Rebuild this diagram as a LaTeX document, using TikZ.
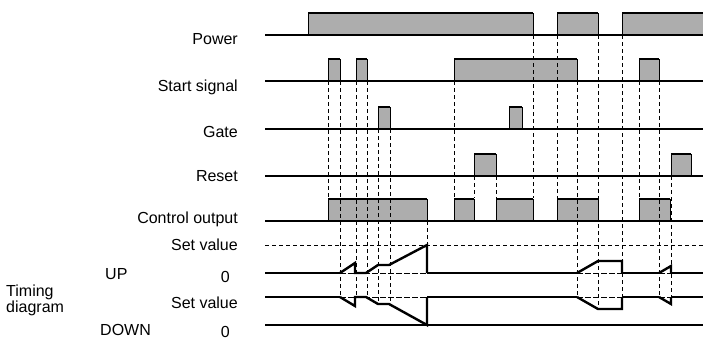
\documentclass[tikz,border=0pt]{standalone}
\usepackage{fontspec}
\setmainfont{Liberation Sans}
\usetikzlibrary{positioning}
\tikzset{lbl/.style={anchor=base east,inner sep=0pt,font=\fontsize{16}{13.5}\selectfont},
sig/.style={line width=1.2pt},hi/.style={fill=black!32},edge/.style={line width=0.9pt},
topedge/.style={line width=2pt},vdash/.style={dash pattern=on 4pt off 3pt,line width=0.9pt},
zline/.style={dash pattern=on 6pt off 2pt,line width=0.7pt},
cnt/.style={line width=2.4pt,line join=miter}}
% one high level of a signal: from, to, baseline
\newcommand{\pulse}[3]{%
  \fill[hi] (#1,#3) rectangle (#2,#3-22);
  \draw[edge] (#1,#3) -- (#1,#3-22) (#2,#3-22) -- (#2,#3);
  \draw[topedge] (#1,#3-22) -- (#2,#3-22);}

\begin{document}
\begin{tikzpicture}[x=1pt,y=-1pt]
		\useasboundingbox (0,0) rectangle (703,343);
		% labels
		\node[lbl] (power) at (238,44.5) {Power};
		\node[lbl] (start) at (238,91.5) {Start signal};
		\node[lbl] (gate) at (238,137.5) {Gate};
		\node[lbl] (reset) at (238,181.5) {Reset};
		\node[lbl] (ctrl) at (238,223) {Control output};
		\node[lbl] (upset) at (238,250) {Set value};
		\node[lbl] (upzero) at (230,282) {0};
		\node[lbl] (dnset) at (238,308.5) {Set value};
		\node[lbl] (dnzero) at (230,337) {0};
		\node[lbl,anchor=base west] (up) at (105,279) {UP};
		\node[lbl,anchor=base west] (down) at (100,335.5) {DOWN};
		\node[lbl,anchor=north west,align=left] (timing) at (6,285) {Timing\\diagram};
		% high levels
		\pulse{308}{533}{35} \pulse{557}{598}{35} \pulse{622}{708}{35}
		\foreach \a/\b in {328/340,356/367,454/577,639/659} \pulse{\a}{\b}{81};
		\foreach \a/\b in {378/390,509/522} \pulse{\a}{\b}{129};
		\foreach \a/\b in {474/496,671/691} \pulse{\a}{\b}{176};
		\foreach \a/\b in {328/427,454/474,496/533,557/598,639/670} \pulse{\a}{\b}{221};
		% timing guides
		\foreach \x/\a/\b in {328/81/198,340/81/297,356/81/297,367/81/297,378/129/304,390/129/304,
			427/221/245,454/81/198,474/176/198,496/176/198,533/35/198,557/35/198,577/81/297,
			598/35/309,622/35/297,639/81/198,659/81/297,671/176/304}
			\draw[vdash] (\x,\a) -- (\x,\b);
		\draw[vdash] (265,245) -- (703,245);
		% low levels
		\foreach \y in {35,81,129,176,221} \draw[sig] (265,\y) -- (703,\y);
		\draw[sig] (265,325) -- (703,325);
		\foreach \y in {273,297} {
			\draw[cnt] (265,\y) -- (340,\y) (427,\y) -- (577,\y) (622,\y) -- (659,\y) (671,\y) -- (703,\y);
			\draw[zline] (340,\y) -- (427,\y) (577,\y) -- (622,\y) (659,\y) -- (671,\y);}
		% UP counter
		\draw[cnt] (340,273) -- (355,263) -- (355,273) -- (366,273) -- (378,265) -- (389,265) -- (427,245) -- (427,273);
		\draw[cnt] (577,273) -- (598,261) -- (622,261) -- (622,273);
		\draw[cnt] (659,273) -- (671,266) -- (671,273);
		% DOWN counter
		\draw[cnt] (340,297) -- (355,306) -- (355,297) -- (366,297) -- (378,304) -- (389,304) -- (427,325) -- (427,297);
		\draw[cnt] (577,297) -- (598,309) -- (622,309) -- (622,297);
		\draw[cnt] (659,297) -- (671,304) -- (671,297);
	\end{tikzpicture}
\end{document}
